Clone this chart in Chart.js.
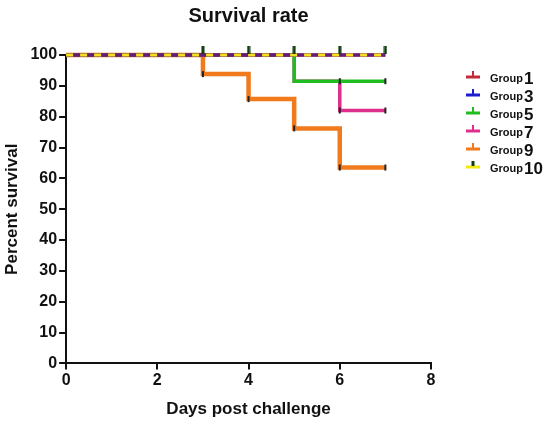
<!DOCTYPE html>
<html>
<head>
<meta charset="utf-8">
<script src="https://cdn.jsdelivr.net/npm/chart.js@4.4.1/dist/chart.umd.min.js"></script>
<style>
  body { margin: 0; background: #fff; }
  #wrap { width: 550px; height: 424px; }
</style>
</head>
<body>
<div id="wrap"><canvas id="survChart"></canvas></div>
<script>
// data
const groupNames = ['Group 1', 'Group 3', 'Group 5', 'Group 7', 'Group 9', 'Group 10'];
const days1 = [0, 7];
const surv1 = [100, 100];
const days3 = [0, 7];
const surv3 = [100, 100];
const days5 = [0, 5, 6, 7];
const surv5 = [100, 91.5, 91.5, 91.5];
const days7 = [0, 5, 6, 7];
const surv7 = [100, 91.5, 82, 82];
const days9 = [0, 3, 4, 5, 6, 7];
const surv9 = [100, 93.8, 85.7, 76.2, 63.5, 63.5];
const days10 = [0, 3, 4, 5, 6, 7];
const surv10 = [100, 100, 100, 100, 100, 100];
const xTicks = [0, 2, 4, 6, 8];

const toXY = (xs, ys) => xs.map((x, i) => ({ x: x, y: ys[i] }));
const FONT = "'Liberation Sans', Arial, sans-serif";

// tall censor mark sitting on top of the line (group 10)
const tallMark = document.createElement('canvas');
tallMark.width = 4; tallMark.height = 18;
(function () {
  const c = tallMark.getContext('2d');
  c.fillStyle = '#123d12';
  c.fillRect(0.5, 0, 3, 8);
})();

const datasets = [
  { label: groupNames[5], data: toXY(days10, surv10), borderColor: '#f4e21a', borderDash: [7, 7], borderWidth: 3,
    pointStyle: tallMark, pointRadius: [0, 5, 5, 5, 5, 5], order: 0, marker: '#f2ea10', markerTick: '#123d12' },
  { label: groupNames[1], data: toXY(days3, surv3), borderColor: 'rgba(40,20,170,0.6)', borderWidth: 3.5,
    pointRadius: 0, order: 1, marker: '#1c1cd2' },
  { label: groupNames[0], data: toXY(days1, surv1), borderColor: '#c4283a', borderWidth: 3.5,
    pointRadius: 0, order: 2, marker: '#c4283a' },
  { label: groupNames[2], data: toXY(days5, surv5), borderColor: '#1fbd1f', borderWidth: 3.5,
    pointStyle: 'line', rotation: 90, pointRadius: [0, 0, 3, 3], pointBorderColor: '#222', pointBorderWidth: 2,
    order: 3, marker: '#1fbd1f' },
  { label: groupNames[3], data: toXY(days7, surv7), borderColor: '#de2f8c', borderWidth: 3.5,
    pointStyle: 'line', rotation: 90, pointRadius: [0, 0, 3, 3], pointBorderColor: '#222', pointBorderWidth: 2,
    order: 4, marker: '#de2f8c' },
  { label: groupNames[4], data: toXY(days9, surv9), borderColor: '#f07a1c', borderWidth: 4.5,
    pointStyle: 'line', rotation: 90, pointRadius: [0, 3, 3, 3, 3, 3], pointBorderColor: '#222', pointBorderWidth: 2,
    order: 5, marker: '#f07a1c' }
];
datasets.forEach(d => { d.stepped = 'before'; d.fill = false; d.clip = false; d.backgroundColor = d.marker; });

// legend on the right, "Group" small and the number big
const sideLegend = {
  id: 'sideLegend',
  afterDraw(chart) {
    const ctx = chart.ctx;
    const list = groupNames.map(n => chart.data.datasets.find(d => d.label === n));
    ctx.save();
    list.forEach((d, i) => {
      const y = 77 + i * 18;
      ctx.strokeStyle = d.marker;
      ctx.lineWidth = 3;
      ctx.beginPath(); ctx.moveTo(466, y); ctx.lineTo(480, y); ctx.stroke();
      if (d.markerTick) {
        ctx.fillStyle = d.markerTick;
        ctx.fillRect(471.5, y - 6, 3, 5);
      } else {
        ctx.lineWidth = 2;
        ctx.beginPath(); ctx.moveTo(473, y); ctx.lineTo(473, y - 6); ctx.stroke();
      }
      const parts = d.label.split(' ');
      ctx.fillStyle = '#111';
      ctx.textBaseline = 'alphabetic';
      ctx.font = 'bold 11px ' + FONT;
      ctx.fillText(parts[0], 490, y + 5);
      const w = ctx.measureText(parts[0]).width;
      ctx.font = 'bold 17px ' + FONT;
      ctx.fillText(parts[1], 490 + w + 1, y + 7);
    });
    ctx.restore();
  }
};

new Chart(document.getElementById('survChart'), {
  type: 'line',
  data: { datasets: datasets },
  options: {
    responsive: true,
    maintainAspectRatio: false,
    animation: false,
    layout: { padding: { left: 2, right: 119, top: 0, bottom: 4 } },
    plugins: {
      legend: { display: false },
      tooltip: { enabled: false },
      title: {
        display: true, text: 'Survival rate', color: '#111', fullSize: false,
        font: { family: FONT, size: 20, weight: 'bold' }, padding: { top: 4, bottom: 27 }
      }
    },
    scales: {
      x: {
        type: 'linear', min: 0, max: 8,
        afterBuildTicks: s => { s.ticks = xTicks.map(v => ({ value: v })); },
        grid: { drawOnChartArea: false, color: '#111', lineWidth: 2, tickLength: 6 },
        border: { color: '#111', width: 2 },
        ticks: { color: '#111', padding: 2, font: { family: FONT, size: 16, weight: 'bold' } },
        title: { display: true, text: 'Days post challenge', color: '#111', padding: { top: 7, bottom: 0 },
          font: { family: FONT, size: 17, weight: 'bold' } }
      },
      y: {
        min: 0, max: 100,
        grid: { drawOnChartArea: false, color: '#111', lineWidth: 2, tickLength: 7 },
        border: { color: '#111', width: 2 },
        ticks: { stepSize: 10, color: '#111', padding: 2, font: { family: FONT, size: 16, weight: 'bold' } },
        title: { display: true, text: 'Percent survival', color: '#111', padding: { top: 0, bottom: 6 },
          font: { family: FONT, size: 17, weight: 'bold' } }
      }
    }
  },
  plugins: [sideLegend]
});
</script>
</body>
</html>
